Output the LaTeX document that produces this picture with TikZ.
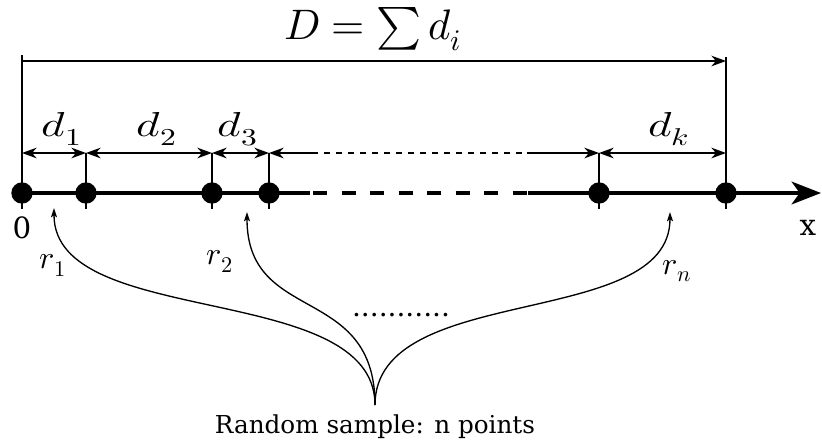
\documentclass[tikz,border=0pt]{standalone}
\usepackage{fontspec}
\setmainfont{DejaVu Serif}
\usepackage{unicode-math}
\setmathfont{Latin Modern Math}
\usetikzlibrary{arrows.meta}
\newcommand{\widemath}[1]{\scalebox{1.3}[1]{#1}}
\begin{document}
\begin{tikzpicture}[x=0.75pt,y=-0.75pt,
  thinline/.style={line width=1pt},
  dimline/.style={thinline,{Stealth[length=11pt,width=8pt,inset=3.5pt]}-{Stealth[length=11pt,width=8pt,inset=3.5pt]}},
  axisline/.style={line width=3pt},
  pt/.style={circle,fill=black,inner sep=0pt,minimum size=16pt},
  curvearrow/.style={thinline,-{Stealth[length=7pt,width=4.5pt,inset=1.5pt]}},
  dlabel/.style={font=\fontsize{26}{30}\selectfont,inner sep=0pt},
  rlabel/.style={font=\fontsize{24}{28}\selectfont,inner sep=0pt},
  txt/.style={font=\fontsize{18.5}{22}\selectfont}]
\useasboundingbox (0,0) rectangle (822,447);
% axis points
\coordinate (p0) at (22,193);
\coordinate (ds) at (310,193);
\coordinate (dds) at (313,193);
\coordinate (de) at (528,193);
\coordinate (xend) at (821,193);
% dimension-line points
\coordinate (t0) at (22,153);
\coordinate (t1) at (86,153);
\coordinate (t2) at (212,153);
\coordinate (t3) at (269,153);
\coordinate (t4) at (599,153);
\coordinate (t5) at (726,153);
\coordinate (ts) at (312,153);
\coordinate (te) at (527,153);
\coordinate (top0) at (22,61);
\coordinate (top5) at (726,61);
\coordinate (vt0) at (22,55);
\coordinate (vt5) at (726,57);
% axis
\draw[axisline] (p0) -- (ds);
\draw[axisline,dash pattern=on 10.5pt off 10.9pt] (dds) -- (de);
\draw[axisline,-{Stealth[length=22pt,width=17pt,inset=6pt]}] (de) -- (xend);
% vertical guides and ticks
\draw[thinline] (vt0) -- (22,209);
\draw[thinline] (vt5) -- (726,209);
\foreach \x in {86,212,269,599} {
  \draw[thinline] (\x,153) -- (\x,209);
}
% dots
\foreach \n/\x in {0/22,1/86,2/212,3/269,4/599,5/726} {
  \node[pt] (dot\n) at (\x,193) {};
}
% top dimension
\draw[thinline,-{Stealth[length=11pt,width=8pt,inset=3.5pt]}] (top0) -- (top5);
\node[font=\fontsize{32}{38}\selectfont] (Dlab) at (373,29) {$D=\sum d_i$};
% d dimensions
\draw[dimline] (t0) -- (t1);
\draw[dimline] (t1) -- (t2);
\draw[dimline] (t2) -- (t3);
\draw[thinline,{Stealth[length=11pt,width=8pt,inset=3.5pt]}-] (t3) -- (ts);
\draw[thinline,dash pattern=on 4.5pt off 4.5pt] (ts) -- (te);
\draw[thinline,-{Stealth[length=11pt,width=8pt,inset=3.5pt]}] (te) -- (t4);
\draw[dimline] (t4) -- (t5);
\node[dlabel] (d1) at (62,129) {\widemath{$d_1$}};
\node[dlabel] (d2) at (157,129) {\widemath{$d_2$}};
\node[dlabel] (d3) at (238,129) {\widemath{$d_3$}};
\node[dlabel] (dk) at (669,129) {\widemath{$d_k$}};
% axis labels
\node[font=\fontsize{22}{26}\selectfont] (zero) at (22,228) {0};
\node[font=\fontsize{22}{26}\selectfont] (xlab) at (808,228) {x};
% random sample
\coordinate (src) at (375,405);
\coordinate (r1t) at (54,208);
\coordinate (r2t) at (247,212);
\coordinate (rnt) at (670,212);
\draw[curvearrow] (src) .. controls (375,280) and (54,330) .. (r1t);
\draw[curvearrow] (src) .. controls (375,283) and (247,325) .. (r2t);
\draw[curvearrow] (src) .. controls (375,281) and (670,331) .. (rnt);
\node[rlabel] (r1) at (53,265) {$r_1$};
\node[rlabel] (r2) at (220,261) {$r_2$};
\node[rlabel] (rn) at (677,271) {$r_n$};
\node[font=\fontsize{21}{24}\selectfont] (dots) at (401,315) {...........};
\node[txt] (rs) at (375,427) {Random sample: n points};
\end{tikzpicture}
\end{document}
